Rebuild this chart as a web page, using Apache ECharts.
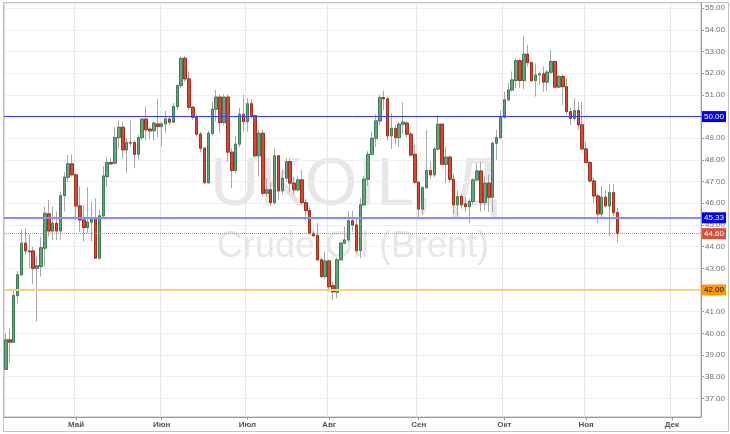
<!DOCTYPE html>
<html><head><meta charset="utf-8">
<script src="https://cdn.jsdelivr.net/npm/echarts@6/dist/echarts.min.js"></script>
<style>html,body{margin:0;padding:0;background:#fff;}#c{width:730px;height:434px;}</style>
</head><body><div id="c"></div>
<script>
const monthNames = ['Янв','Фев','Мар','Апр','Май','Июн','Июл','Авг','Сен','Окт','Ноя','Дек'];
const startDate = '2016-04-06';
const totalDays = 179;
const opens = [38.34,39.70,39.59,41.74,42.70,44.16,43.80,43.80,43.00,43.08,43.93,45.51,44.72,45.08,44.72,46.35,47.20,47.82,47.31,45.88,
45.23,44.88,45.13,45.34,43.47,45.42,47.23,47.88,47.85,49.03,49.51,48.46,48.80,48.80,48.26,49.03,49.88,49.42,49.35,49.66,
49.54,49.66,49.89,49.74,50.46,51.43,52.69,51.74,50.43,49.97,49.19,48.54,46.95,49.23,50.34,50.90,49.72,50.90,48.36,47.51,
48.73,50.11,49.77,50.59,50.05,48.19,49.23,46.46,46.62,46.03,48.19,46.57,47.16,47.92,46.93,46.62,47.08,46.03,45.66,44.62,
44.51,43.39,42.62,43.34,42.20,41.90,43.39,44.16,44.31,45.19,45.00,43.82,45.93,47.11,48.26,49.00,49.80,50.88,50.82,49.11,
49.46,49.03,49.65,49.70,49.19,48.26,46.97,45.73,46.72,47.51,47.31,48.50,49.65,47.80,48.13,47.11,45.93,46.31,45.97,45.85,
46.08,47.08,47.49,46.03,46.93,46.28,48.77,49.03,49.97,50.77,51.23,51.66,52.58,51.66,52.88,52.49,51.66,51.92,51.97,51.59,
52.05,52.54,51.36,51.85,51.38,50.23,49.92,50.28,49.62,48.51,47.88,47.03,46.34,45.51,46.28,45.88,46.49,45.57];
const closes = [39.70,39.59,41.74,42.70,44.16,43.80,43.76,43.00,43.12,43.95,45.54,44.72,45.08,44.72,46.35,47.20,47.82,47.31,45.88,45.23,
44.88,45.13,45.28,43.47,45.42,47.26,47.88,47.82,49.03,49.51,48.46,48.80,48.78,48.26,49.03,49.88,49.39,49.34,49.70,49.54,
49.66,49.89,49.74,50.46,51.43,52.69,51.74,50.43,49.97,49.19,48.54,46.95,49.23,50.34,50.90,49.72,50.90,48.36,47.51,48.73,
50.11,49.77,50.59,50.05,48.19,49.23,46.46,46.62,46.03,48.19,46.57,47.16,47.92,46.93,46.62,47.08,46.03,45.66,44.62,44.50,
43.39,42.62,43.34,42.15,41.92,43.39,44.16,44.31,45.19,45.00,43.82,45.93,47.11,48.26,49.00,49.80,50.88,50.82,49.11,49.46,
49.03,49.65,49.75,49.19,48.23,46.97,45.73,46.72,47.51,47.31,48.50,49.65,47.80,48.13,47.11,45.93,46.31,45.93,45.85,46.08,
47.08,47.49,46.03,46.93,46.28,48.77,49.03,49.97,50.77,51.23,51.69,52.58,51.66,52.88,52.49,51.66,51.92,51.97,51.59,52.05,
52.54,51.36,51.85,51.38,50.23,49.92,50.28,49.62,48.51,47.88,47.03,46.34,45.51,46.28,45.88,46.49,45.57,44.60];
const lows = [38.30,38.64,39.55,41.39,42.62,43.62,43.00,42.27,40.54,42.62,43.08,44.46,44.31,44.31,44.31,45.62,47.00,47.23,45.23,44.69,
44.23,44.62,44.23,43.45,43.40,45.30,46.77,47.77,47.80,48.50,48.08,47.39,48.62,47.62,48.00,48.92,48.92,48.96,48.92,49.05,
48.62,49.23,49.60,49.70,50.30,51.30,51.60,50.30,49.85,49.06,48.37,46.90,46.90,49.10,49.77,49.23,49.60,47.92,46.70,47.40,
48.60,49.31,49.31,49.90,48.10,47.23,46.35,46.30,45.90,45.95,46.16,46.40,47.00,46.50,46.39,46.55,45.95,45.23,44.55,44.45,
43.35,42.55,42.50,41.92,41.54,41.62,43.39,44.10,44.20,44.69,43.70,43.47,45.85,46.80,48.20,48.60,49.60,50.30,48.90,48.51,
48.70,48.60,49.16,49.05,48.15,46.90,45.31,45.45,46.65,47.15,47.20,48.45,47.75,46.93,46.93,45.50,45.40,45.75,45.60,45.08,
45.95,47.00,45.62,45.70,45.60,45.60,48.00,48.95,49.90,50.70,51.15,51.31,51.31,51.26,52.30,51.60,50.92,51.46,51.15,51.20,
51.95,51.30,51.30,50.54,50.10,49.62,49.80,49.39,48.45,47.85,46.95,46.00,45.08,45.30,45.80,44.46,45.40,44.20];
const highs = [40.00,40.22,41.97,42.88,44.77,44.85,44.57,44.00,43.54,44.46,45.85,46.16,45.85,45.62,46.54,47.43,48.23,48.26,47.40,46.77,
45.93,46.74,46.08,46.23,45.69,47.69,48.15,48.08,49.51,49.82,49.77,49.00,49.85,48.92,49.16,49.94,50.46,49.54,49.77,50.80,
49.77,50.26,50.00,50.63,51.50,52.77,52.81,52.08,50.50,50.10,49.30,48.60,49.35,50.69,51.23,51.03,51.03,51.03,48.54,49.10,
50.40,51.00,50.85,50.80,50.05,49.40,49.40,47.16,46.95,48.54,48.19,47.54,48.08,48.08,47.23,47.23,47.54,46.20,45.80,44.75,
45.08,43.50,43.77,43.40,42.39,43.50,44.25,44.92,45.65,45.65,45.34,46.25,47.25,48.40,49.30,50.10,51.00,51.19,50.90,50.16,
49.60,49.75,50.66,49.80,49.30,48.69,47.00,46.80,49.39,47.92,48.60,50.08,49.65,48.59,48.20,47.35,46.60,46.45,46.30,46.20,
47.15,47.85,47.92,47.25,47.31,48.85,49.39,50.30,51.15,51.55,52.08,52.69,52.66,53.72,53.31,52.55,52.46,52.08,52.31,52.15,
53.08,52.60,51.95,51.95,51.77,50.40,50.85,50.69,50.69,48.85,47.95,47.20,46.45,46.80,46.60,46.89,46.89,45.80];
const levelValues = [50.00, 45.33, 42.00];
const lastPrice = 44.60;
const yMin = 36.14, yMax = 55.24;

// trading-day categories (weekdays)
const dates = [];
{
  let d = new Date(startDate + 'T12:00:00Z');
  while (dates.length < totalDays) {
    const wd = d.getUTCDay();
    if (wd !== 0 && wd !== 6) dates.push(d.toISOString().slice(0,10));
    d = new Date(d.getTime() + 86400000);
  }
}
const monthOf = s => parseInt(s.slice(5,7),10) - 1;
const isMonthStart = i => i > 0 && monthOf(dates[i]) !== monthOf(dates[i-1]);

const fullData = opens.map((o,i) => [o, closes[i], lows[i], highs[i]]);
const bodyData = opens.map((o,i) => [o, closes[i], Math.min(o, closes[i]), Math.max(o, closes[i])]);

const FONT = '"Liberation Sans", Arial, sans-serif';
function lvlLabel(bg, fg){
  return {show:true, position:'end', distance:1, formatter: p => p.value.toFixed(2),
    backgroundColor:bg, color:fg, fontSize:8, fontFamily:FONT, padding:[2,2,1,2], borderRadius:0};
}

const chart = echarts.init(document.getElementById('c'), null, {renderer:'canvas'});
chart.setOption({
  animation:false,
  backgroundColor:'#fff',
  graphic:[
    {type:'rect', z:-20, silent:true, shape:{x:3.5,y:2.5,width:725,height:429}, style:{fill:'none', stroke:'#c4c4c4', lineWidth:1}},
    {type:'text', z:-10, silent:true, style:{text:'UKOIL, Д', x:354, y:186, align:'center', verticalAlign:'middle', font:'68px "Liberation Sans", Arial, sans-serif', fill:'#e7e7e7'}},
    {type:'text', z:-10, silent:true, style:{text:'Crude Oil (Brent)', x:353, y:247, align:'center', verticalAlign:'middle', font:'36px "Liberation Sans", Arial, sans-serif', fill:'#e7e7e7'}}
  ],
  grid:{left:4, right:29, top:3, bottom:17, show:true, borderColor:'#b8b8b8', borderWidth:1, backgroundColor:'transparent'},
  xAxis:{
    type:'category', data:dates, boundaryGap:true,
    axisLine:{show:true, lineStyle:{color:'#999'}},
    axisTick:{show:true, alignWithLabel:true, length:3, interval:(i)=>isMonthStart(i), lineStyle:{color:'#999'}},
    axisLabel:{interval:(i)=>isMonthStart(i), formatter:(v)=>monthNames[monthOf(v)], color:'#555', fontSize:8, fontWeight:'bold', fontFamily:FONT, margin:4},
    splitLine:{show:true, interval:(i)=>isMonthStart(i), lineStyle:{color:'#e6e6e6'}}
  },
  yAxis:{
    type:'value', position:'right', min:yMin, max:yMax, scale:true,
    splitNumber:19, minInterval:1, maxInterval:1,
    axisLine:{show:true, lineStyle:{color:'#999'}},
    axisTick:{show:true, length:3, lineStyle:{color:'#999'}},
    axisLabel:{formatter:(v)=>v.toFixed(2), showMinLabel:false, showMaxLabel:false, color:'#707070', fontSize:8, fontFamily:FONT, margin:4},
    splitLine:{show:true, lineStyle:{color:'#eeeeee'}}
  },
  series:[
    {type:'candlestick', name:'wick', data:fullData, barWidth:3, z:2,
     itemStyle:{color:'#a8a8a8', color0:'#a8a8a8', borderColor:'#a8a8a8', borderColor0:'#a8a8a8', borderWidth:1}},
    {type:'candlestick', name:'UKOIL', data:bodyData, barWidth:3, z:3,
     itemStyle:{color:'#66a37f', color0:'#d44a36', borderColor:'#3f7d57', borderColor0:'#a3301f', borderWidth:1},
     markLine:{silent:true, symbol:'none', animation:false,
       data:[
         {yAxis:levelValues[0], lineStyle:{color:'#3a3aff', width:1, type:'solid'}, label:lvlLabel('#0000ee','#fff')},
         {yAxis:levelValues[1], lineStyle:{color:'#8a8aff', width:2, type:'solid'}, label:lvlLabel('#0000ee','#fff')},
         {yAxis:levelValues[2], lineStyle:{color:'#ffcf80', width:2, type:'solid'}, label:lvlLabel('#ff9900','#000')},
         {yAxis:lastPrice, lineStyle:{color:'#e07a6a', width:1, type:'dotted'}, label:lvlLabel('#d9503c','#fff')}
       ]}}
  ]
});
</script></body></html>
